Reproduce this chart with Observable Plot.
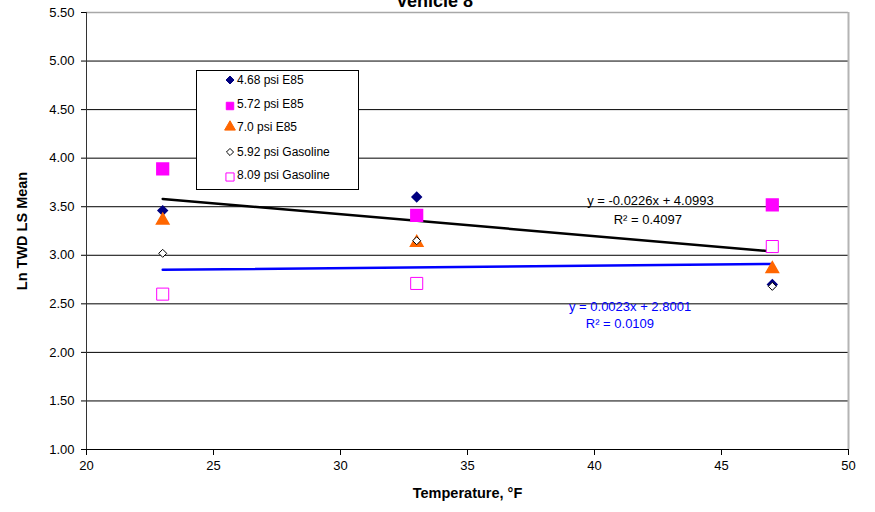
<!DOCTYPE html>
<html><head><meta charset="utf-8">
<script src="https://cdn.jsdelivr.net/npm/d3@7"></script>
<script src="https://cdn.jsdelivr.net/npm/@observablehq/plot@0.6"></script>
<style>
body{margin:0;background:#fff;font-family:"Liberation Sans",Arial,sans-serif}
#wrap{position:relative;width:875px;height:512px;overflow:hidden}
#legend{position:absolute;left:196px;top:70px;width:163px;height:120px;border:1px solid #000;background:#fff;box-sizing:border-box}
</style>
</head><body><div id="wrap"></div>
<script>
// ---- data ----
const temps = [23, 33, 47];
const seriesNames = ["4.68 psi E85", "5.72 psi E85", "7.0 psi E85", "5.92 psi Gasoline", "8.09 psi Gasoline"];
const psi468E85 = [3.46, 3.60, 2.70];
const psi572E85 = [3.89, 3.41, 3.52];
const psi70E85 = [3.36, 3.13, 2.86];
const psi592Gas = [3.02, 3.15, 2.68];
const psi809Gas = [2.60, 2.71, 3.09];
const trendX = [23, 47];
const trendBlackY = [3.58, 3.04];
const trendBlueY = [2.85, 2.91];
const xTicks = [20, 25, 30, 35, 40, 45, 50];
const yTicks = [1.0, 1.5, 2.0, 2.5, 3.0, 3.5, 4.0, 4.5, 5.0, 5.5];
const eqBlack = ["y = -0.0226x + 4.0993", "R\u00B2 = 0.4097"];
const eqBlue = ["y = 0.0023x + 2.8001", "R\u00B2 = 0.0109"];

const allSeries = [psi468E85, psi572E85, psi70E85, psi592Gas, psi809Gas];
const styles = [
  {symbol: "diamond2", fill: "#000080", stroke: "#000080", r: 4.2},
  {symbol: "square", fill: "#FF00FF", stroke: "#FF00FF", r: 6.6},
  {symbol: "triangle", fill: "#FF6600", stroke: "#FF6600", r: 4.6},
  {symbol: "diamond2", fill: "#fff", stroke: "#000", r: 3.6, strokeWidth: 1},
  {symbol: "square", fill: "#fff", stroke: "#FF00FF", r: 6.8, strokeWidth: 1}
];
const rows = allSeries.map((vals, i) => temps.map((t, j) => ({series: seriesNames[i], t, v: vals[j]})));
const blackLine = trendX.map((x, i) => ({x, y: trendBlackY[i]}));
const blueLine = trendX.map((x, i) => ({x, y: trendBlueY[i]}));

const font = "Liberation Sans, Arial, sans-serif";
const chart = Plot.plot({
  width: 875, height: 512,
  marginLeft: 86, marginRight: 27, marginTop: 12, marginBottom: 63,
  style: {fontFamily: font, fontSize: "13px", background: "white", color: "#000"},
  x: {domain: [20, 50], label: null},
  y: {domain: [1, 5.5], label: null},
  marks: [
    Plot.ruleY(yTicks.slice(1, -1), {stroke: "#000", strokeWidth: 1}),
    Plot.ruleY([5.5], {stroke: "#a8a8a8", strokeWidth: 1.5}),
    Plot.ruleX([50], {stroke: "#b4b4b4", strokeWidth: 2}),
    Plot.ruleX([20], {stroke: "#333"}),
    Plot.ruleY([1], {stroke: "#000"}),
    Plot.axisY({ticks: yTicks, tickSize: 5, tickPadding: 7, tickFormat: d3.format(".2f"), fontSize: 13, label: null}),
    Plot.axisX({ticks: xTicks, tickSize: 6, tickPadding: 5, fontSize: 13, label: null}),
    Plot.line(blackLine, {x: "x", y: "y", stroke: "#000", strokeWidth: 2.5}),
    Plot.line(blueLine, {x: "x", y: "y", stroke: "#0000FF", strokeWidth: 2.5}),
    ...rows.map((d, i) => Plot.dot(d, {x: "t", y: "v", ...styles[i]})),
    Plot.text([{x: 42.2, y: 3.56, t: eqBlack[0]}, {x: 42.1, y: 3.37, t: eqBlack[1]}], {x: "x", y: "y", text: "t", fontSize: 13, fill: "#000"}),
    Plot.text([{x: 41.4, y: 2.47, t: eqBlue[0]}, {x: 41.0, y: 2.29, t: eqBlue[1]}], {x: "x", y: "y", text: "t", fontSize: 13, fill: "#0000FF"}),
    Plot.text(["Vehicle 8"], {frameAnchor: "top", textAnchor: "middle", dx: -33, dy: -6, lineAnchor: "bottom", fontSize: 18, fontWeight: "bold"}),
    Plot.text(["Ln TWD LS Mean"], {frameAnchor: "left", textAnchor: "middle", dx: -64, rotate: -90, fontSize: 14.5, fontWeight: "bold"}),
    Plot.text(["Temperature, \u00B0F"], {frameAnchor: "bottom", textAnchor: "middle", dy: 48, fontSize: 14.5, fontWeight: "bold"})
  ]
});
const wrap = document.getElementById("wrap");
wrap.appendChild(chart);

// legend
const leg = document.createElement("div");
leg.id = "legend";
wrap.appendChild(leg);
const ls = d3.select(leg).append("svg").attr("width", 162).attr("height", 118).style("font-family", font);
const legY = [9, 33, 56, 81, 104];
const symMap = {diamond2: d3.symbolDiamond2, square: d3.symbolSquare, triangle: d3.symbolTriangle};
const legR = [3.6, 4.2, 4.0, 3.2, 4.6];
seriesNames.forEach((name, i) => {
  const s = styles[i];
  const size = legR[i] * legR[i] * Math.PI;
  ls.append("path")
    .attr("d", d3.symbol(symMap[s.symbol], size)())
    .attr("transform", `translate(${33},${legY[i] + (s.symbol === "square" ? 2 : 0)})`)
    .attr("fill", s.fill).attr("stroke", s.stroke).attr("stroke-width", s.strokeWidth || 1);
  ls.append("text").attr("x", 40).attr("y", legY[i]).attr("dy", "0.35em")
    .attr("font-size", 12).text(name);
});
</script>
</body></html>
